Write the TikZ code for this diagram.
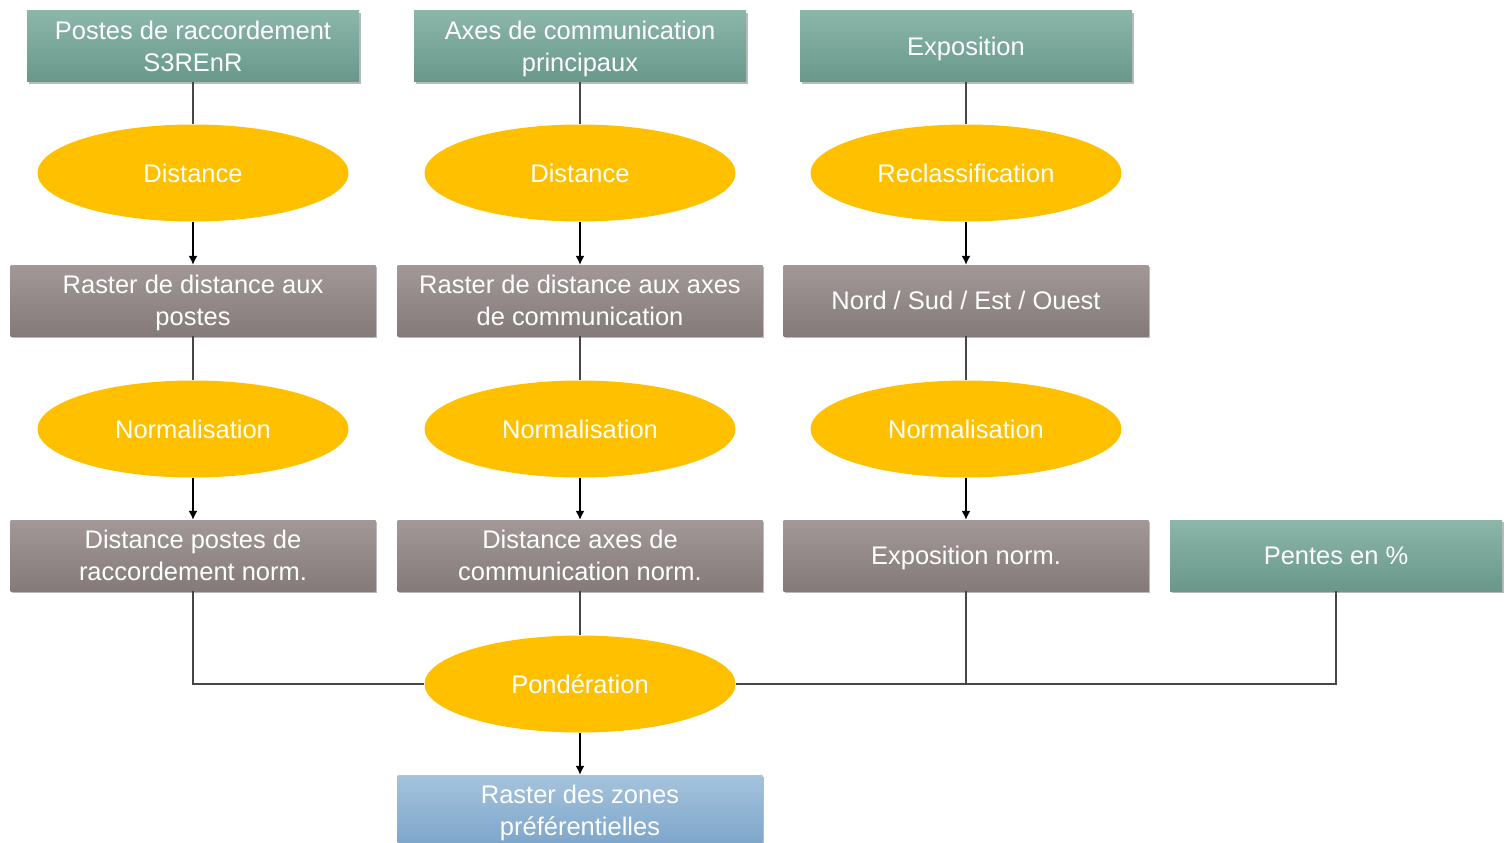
\documentclass[tikz,border=0pt]{standalone}
\usepackage{fontspec}
\setmainfont{Liberation Sans}
\usetikzlibrary{shapes.geometric,arrows.meta,positioning,shadows}

\definecolor{tealtop}{RGB}{140,182,170}
\definecolor{tealbot}{RGB}{104,152,139}
\definecolor{greytop}{RGB}{163,152,152}
\definecolor{greybot}{RGB}{133,122,122}
\definecolor{bluetop}{RGB}{165,195,220}
\definecolor{bluebot}{RGB}{125,165,202}
\definecolor{amber}{RGB}{255,192,0}
\definecolor{wire}{RGB}{70,70,70}

\tikzset{
  databox/.style={rectangle, inner sep=0pt, text=white, align=center,
    font=\fontsize{14.5}{18.4}\selectfont, text depth=0pt,
    drop shadow={opacity=0.45, fill=black!60, shadow xshift=1pt, shadow yshift=-1.2pt}},
  inputbox/.style={databox, minimum width=6.64cm, minimum height=1.42cm,
    top color=tealtop, bottom color=tealbot},
  rasterbox/.style={databox, minimum width=7.3cm, minimum height=1.42cm,
    top color=greytop, bottom color=greybot},
  resultbox/.style={databox, minimum width=7.3cm, minimum height=1.42cm,
    top color=bluetop, bottom color=bluebot},
  process/.style={ellipse, inner sep=0pt, minimum width=6.22cm, minimum height=1.94cm,
    fill=amber, text=white, font=\fontsize{14.5}{18.4}\selectfont},
  link/.style={draw=wire, line width=0.6pt},
  flow/.style={link, -{Latex[length=5pt,width=5pt]}, draw=black}
}

\begin{document}
\begin{tikzpicture}
        \useasboundingbox (0,0) rectangle (30.22,-16.86);

        % column 1
        \node[inputbox] (postes) at (3.86,-0.93) {Postes de raccordement\\S3REnR};
        \node[process] (dist1) at (3.86,-3.46) {Distance};
        \node[rasterbox] (rdist1) at (3.86,-6.01) {Raster de distance aux\\postes};
        \node[process] (norm1) at (3.86,-8.58) {Normalisation};
        \node[rasterbox] (dnorm1) at (3.86,-11.11) {Distance postes de\\raccordement norm.};

        % column 2
        \node[inputbox] (axes) at (11.6,-0.93) {Axes de communication\\principaux};
        \node[process] (dist2) at (11.6,-3.46) {Distance};
        \node[rasterbox] (rdist2) at (11.6,-6.01) {Raster de distance aux axes\\de communication};
        \node[process] (norm2) at (11.6,-8.58) {Normalisation};
        \node[rasterbox] (dnorm2) at (11.6,-11.11) {Distance axes de\\communication norm.};

        % column 3
        \node[inputbox] (expo) at (19.32,-0.93) {Exposition};
        \node[process] (reclass) at (19.32,-3.46) {Reclassification};
        \node[rasterbox] (nsew) at (19.32,-6.01) {Nord / Sud / Est / Ouest};
        \node[process] (norm3) at (19.32,-8.58) {Normalisation};
        \node[rasterbox] (enorm) at (19.32,-11.11) {Exposition norm.};

        % column 4 and result
        \node[inputbox] (pentes) at (26.72,-11.11) {Pentes en \%};
        \node[process] (pond) at (11.6,-13.68) {Pondération};
        \node[resultbox] (zones) at (11.6,-16.21) {Raster des zones\\préférentielles};

        \draw[link] (postes) -- (dist1);
        \draw[flow] (dist1) -- (rdist1);
        \draw[link] (rdist1) -- (norm1);
        \draw[flow] (norm1) -- (dnorm1);

        \draw[link] (axes) -- (dist2);
        \draw[flow] (dist2) -- (rdist2);
        \draw[link] (rdist2) -- (norm2);
        \draw[flow] (norm2) -- (dnorm2);

        \draw[link] (expo) -- (reclass);
        \draw[flow] (reclass) -- (nsew);
        \draw[link] (nsew) -- (norm3);
        \draw[flow] (norm3) -- (enorm);

        \draw[link] (dnorm1) |- (pond);
        \draw[link] (dnorm2) -- (pond);
        \draw[link] (enorm) |- (pond);
        \draw[link] (pentes) |- (pond);
        \draw[flow] (pond) -- (zones);
        \end{tikzpicture}
\end{document}
